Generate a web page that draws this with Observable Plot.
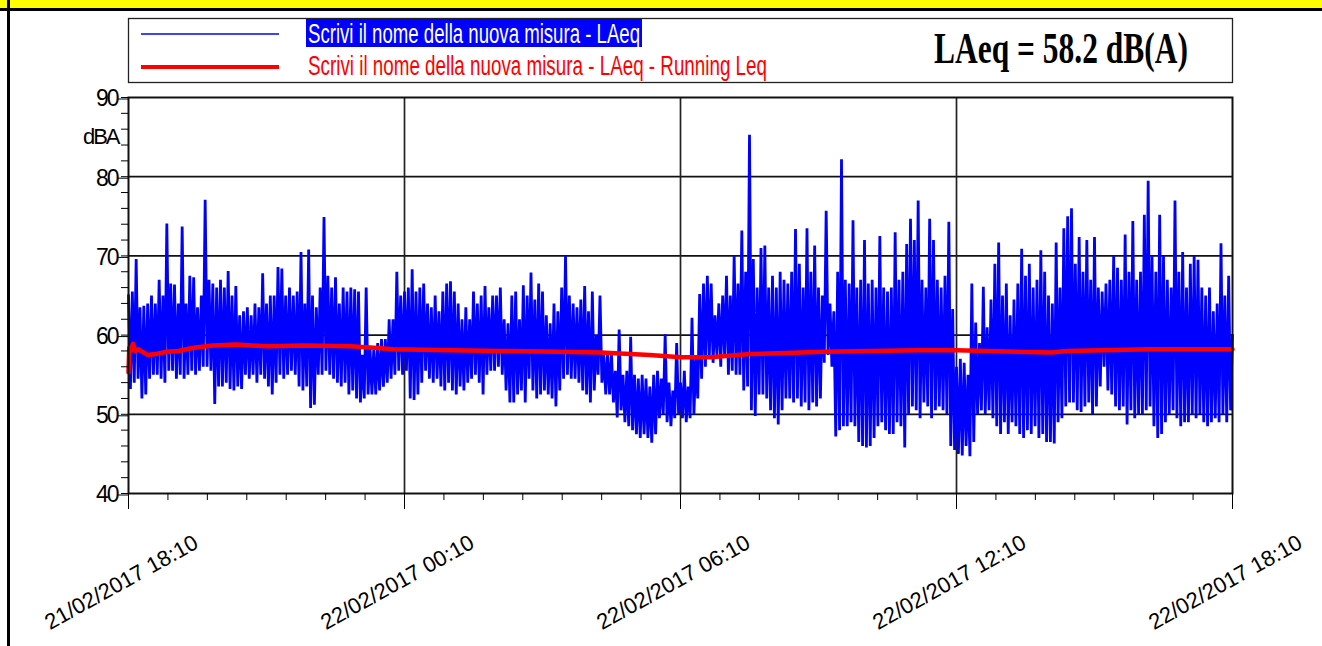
<!DOCTYPE html>
<html><head><meta charset="utf-8">
<script src="https://cdn.jsdelivr.net/npm/d3@7"></script>
<script src="https://cdn.jsdelivr.net/npm/@observablehq/plot@0.6"></script>
<style>
html,body{margin:0;padding:0;background:#fff;}
#page{position:relative;width:1322px;height:646px;overflow:hidden;background:#fff;}
#topbar{position:absolute;left:0;top:0;width:1322px;height:8px;background:#ffff00;border-bottom:3px solid #000;z-index:3;}
#leftline{position:absolute;left:7px;top:0;width:3px;height:646px;background:#000;z-index:3;}
#legend{position:absolute;left:0;top:0;z-index:2;}
#chart{position:absolute;left:0;top:85px;z-index:1;}
#chart svg g[aria-label="y-axis tick label"] text{letter-spacing:-2px;}
</style></head><body>
<div id="page">
<div id="chart"></div>
<svg id="legend" width="1322" height="90"></svg>
<div id="topbar"></div><div id="leftline"></div>
</div>
<script>
// ---------- data ----------
const seriesNames = ["Scrivi il nome della nuova misura - LAeq", "Scrivi il nome della nuova misura - LAeq - Running Leq"];
const summaryText = "LAeq = 58.2 dB(A)";
const yUnit = "dBA";
const xTickLabels = ["21/02/2017 18:10", "22/02/2017 00:10", "22/02/2017 06:10", "22/02/2017 12:10", "22/02/2017 18:10"];
const xTickMinutes = [0, 360, 720, 1080, 1440];
const yTicks = [40, 50, 60, 70, 80, 90];
const yGrid = [50, 60, 70, 80];

// LAeq: 5-minute maxima (hi) and minima (lo), one row per hour from 18:10
const laeqHi = [
 65, 65.5, 69.6, 63.5, 63.7, 64, 65, 64, 67, 65, 74.1, 66.5,
 66.4, 64, 73.7, 64, 67.5, 67.3, 63.5, 65, 77.1, 67, 66.5, 66,
 67, 66, 68.1, 65, 66.2, 62.5, 63, 63.5, 62.5, 64, 63.5, 67.8,
 64, 65, 65, 68.6, 68.4, 65, 66, 65, 65.5, 70.5, 64, 70.8,
 65, 63.5, 66, 74.9, 67.5, 66, 67.3, 64, 66, 65.5, 66, 65.8,
 65.5, 57.5, 66, 58.5, 58.5, 59, 59.5, 59.5, 62, 62, 68, 65,
 65.5, 66, 68.3, 65.5, 66, 66.5, 64, 63.5, 65, 63, 65.5, 66.5,
 66.8, 65.5, 64, 62, 63.5, 62, 65.5, 64, 65, 66.2, 63.5, 65,
 65, 66, 62, 61.5, 65, 65.5, 62, 66.3, 65, 67.9, 64.5, 66.5,
 65.5, 62.5, 61.5, 64, 63, 66, 70, 65, 64, 63.5, 64.5, 66.2,
 63, 65.5, 60, 65, 57.5, 58, 57.5, 55.5, 60.7, 55, 55.5, 59.8,
 55, 54.5, 55, 54.5, 53.5, 55, 55.5, 54.5, 60.1, 54, 53, 59,
 54, 55.5, 53.5, 62.2, 57, 65.2, 66.5, 67.5, 66.5, 62.5, 64, 65,
 67.5, 65, 70, 66.5, 73.2, 68, 85.3, 69.6, 66, 71, 71.3, 66,
 67.5, 66, 68, 67, 66.5, 68, 73.4, 69, 66, 73.5, 68, 71.3,
 66, 65, 75.7, 64, 63, 68, 82.2, 67, 66.5, 74.5, 66, 67,
 72, 66.5, 67, 66, 72.5, 66, 65.5, 66, 73, 67, 68, 71.5,
 74.7, 72, 77, 67, 66, 74.7, 72, 67, 66, 67.5, 74.3, 63.3,
 56, 57, 56.5, 55, 66.5, 61.6, 59, 66.1, 61, 64.5, 69, 71.7,
 65, 66.5, 62.5, 64.5, 66.5, 70.9, 67.5, 69, 66, 67, 70.7, 68,
 65, 64, 71.7, 66, 73.5, 75, 76, 69, 72.4, 68, 72, 67,
 72.4, 66, 65.5, 66.5, 67, 70, 68.5, 67, 72.7, 68, 74.4, 67,
 68, 75.2, 79.5, 70, 68, 75.2, 70, 67, 66, 77, 68, 70.5,
 66, 69, 70, 69.5, 66, 65, 66, 63, 64, 71.6, 65, 67.5
];
const laeqLo = [
 53.2, 54, 54.5, 52, 52.5, 54.5, 55, 55, 54.5, 54, 55.5, 55.5,
 54.5, 55, 54.5, 55, 55.5, 55, 55.5, 56, 56, 55.5, 51.3, 53.5,
 53.5, 54, 53.2, 53, 53.5, 53.2, 55, 54.5, 55, 54, 55, 54.5,
 53.5, 52.5, 54, 55, 54.5, 55, 55.5, 55, 53.5, 53, 53.5, 50.8,
 51.2, 55, 55, 55.5, 55, 54.5, 54, 53.5, 54, 52.5, 53, 52,
 51.5, 52, 52.5, 52.5, 52.5, 53, 53.5, 54, 54.5, 55, 55.5, 55,
 55.5, 52, 51.8, 52.5, 54, 55.5, 54.5, 54, 54.5, 53.5, 53, 54,
 53, 52.5, 53.5, 53, 54, 54.5, 55, 54, 52.5, 55, 55.5, 55.5,
 56, 55, 53, 51.5, 51.5, 52.5, 53, 51.5, 54.5, 53, 52, 52.5,
 53, 52.5, 52, 51, 53, 54.5, 55, 54.5, 54.5, 54, 53, 52.5,
 51.5, 53, 55, 54, 52.5, 52.5, 51.5, 49.6, 50.5, 49, 48.5, 48,
 47.5, 47, 47.5, 47, 46.4, 47.5, 49.5, 50, 49, 48.5, 49.5, 50,
 49.5, 49, 49.5, 50, 52, 54.5, 56, 57, 56.5, 57.5, 56, 57.5,
 55, 55.5, 55, 55, 53, 53.5, 50.5, 49.8, 52.5, 52.5, 52, 50.5,
 49.5, 48.7, 50.5, 52, 52, 51.5, 52, 51, 51.5, 50.5, 51.5, 51,
 52, 56.5, 57.5, 56, 47.2, 48, 48.5, 48.5, 49, 48.5, 46.5, 46,
 45.8, 46, 47, 48.5, 49, 48, 47.5, 47.5, 49, 48.5, 45.8, 50,
 51, 50.5, 49.5, 51.5, 51, 49.5, 50.5, 51, 50.5, 50, 46, 45.5,
 45, 44.8, 46, 44.7, 46.5, 50, 50.5, 50, 50.5, 49.5, 48.5, 47.5,
 49, 47.5, 49, 48.5, 47.5, 47, 48, 47.5, 48.5, 47, 47.5, 46.5,
 46.5, 46.3, 49, 49.5, 51, 51.5, 51.5, 50.5, 50.3, 51, 51.5, 50,
 51, 53.5, 56, 53, 52.5, 51, 50.5, 51, 48.7, 50.5, 49.5, 50,
 50, 50.5, 51, 48.5, 47, 47.5, 49, 50, 50.5, 49.5, 48.5, 49,
 49, 50, 49.5, 50, 49, 48.5, 49, 49.5, 49, 50, 49, 50.5
];
const laeqEnd = 60;

// Running Leq: minutes from 18:10 and values
const runMinutes = [0, 1, 3, 6, 9, 13, 18, 25, 35, 50, 65, 85, 110, 140, 180, 230, 290, 320, 345, 420, 485, 560, 616, 680, 720, 759, 811, 907, 1029, 1080, 1203, 1224, 1333, 1440];
const runValues  = [55.3, 58.4, 58.0, 58.9, 58.0, 58.2, 57.9, 57.5, 57.6, 57.9, 58.0, 58.4, 58.7, 58.8, 58.6, 58.7, 58.6, 58.4, 58.2, 58.1, 58.0, 57.9, 57.8, 57.5, 57.2, 57.2, 57.6, 57.9, 58.1, 58.1, 57.8, 58.0, 58.2, 58.2];

// ---------- build ----------
const MIN = 60000;
const start = Date.UTC(2017, 1, 21, 18, 10);
const tm = m => new Date(start + m * MIN);

const blue = [];
laeqHi.forEach((h, i) => {
  blue.push({t: tm(i * 5), v: h});
  blue.push({t: tm(i * 5 + 2.5), v: laeqLo[i]});
});
blue.push({t: tm(1440), v: laeqEnd});
const red = runMinutes.map((m, i) => ({t: tm(m), v: runValues[i]}));

const xMajor = xTickMinutes.map(tm);
const xMinor = d3.range(0, 29).map(k => tm(k * 360 / 7));
const yMinor = d3.range(40, 91, 2);

const chart = Plot.plot({
  width: 1322, height: 561,
  marginTop: 12, marginBottom: 153, marginLeft: 128, marginRight: 90,
  x: {type: "utc", domain: [tm(0), tm(1440)]},
  y: {domain: [40, 90]},
  style: {fontFamily: "'Liberation Sans', Arial, sans-serif", background: "transparent", color: "#000", overflow: "visible"},
  marks: [
    Plot.ruleY(yGrid, {stroke: "#111", strokeWidth: 1.7}),
    Plot.ruleX(xMajor.slice(1, -1), {stroke: "#222", strokeWidth: 1.7}),
    Plot.line(blue, {x: "t", y: "v", stroke: "#0000ff", strokeWidth: 2.8, strokeLinejoin: "bevel", curve: "linear"}),
    Plot.line(red, {x: "t", y: "v", stroke: "#ff0000", strokeWidth: 4.5}),
    Plot.frame({stroke: "#111", strokeWidth: 2}),
    Plot.axisY({ticks: yMinor, tickSize: 7, tickFormat: () => "", label: null, stroke: "#000"}),
    Plot.axisY({ticks: yTicks, tickSize: 11, tickPadding: 0, fontSize: 23, dy: 1.5, label: null, stroke: "#000"}),
    Plot.axisX({ticks: xMinor, tickSize: 7, tickFormat: () => "", label: null, stroke: "#000"}),
    Plot.axisX({ticks: xMajor, tickSize: 16, tickFormat: () => "", label: null, stroke: "#000"}),
    Plot.text([yUnit], {frameAnchor: "left", y: () => 85, text: d => d, dx: -10, textAnchor: "end", fontSize: 22, fill: "#000"}),
    Plot.text(xTickLabels, {x: (d, i) => xMajor[i], y: () => 40, text: d => d, rotate: -29, dx: -7, dy: 89, fontSize: 22, textAnchor: "middle", fill: "#000"})
  ]
});
chart.querySelectorAll('g[aria-label="text"] text').forEach(t => { if (t.textContent === yUnit) t.style.letterSpacing = "-2px"; });
document.getElementById("chart").appendChild(chart);

// ---------- legend ----------
const ns = "http://www.w3.org/2000/svg";
const lg = document.getElementById("legend");
function el(name, attrs, text) {
  const e = document.createElementNS(ns, name);
  for (const k in attrs) e.setAttribute(k, attrs[k]);
  if (text) e.textContent = text;
  lg.appendChild(e);
  return e;
}
el("rect", {x: 128.5, y: 18.5, width: 1104, height: 64, fill: "#fff", stroke: "#222", "stroke-width": 1.3});
el("line", {x1: 141, x2: 279, y1: 34, y2: 34, stroke: "#0000ff", "stroke-width": 1.5});
el("line", {x1: 141, x2: 279, y1: 67, y2: 67, stroke: "#ff0000", "stroke-width": 4});
el("rect", {x: 306, y: 19, width: 336, height: 28, fill: "#0000ff"});
el("text", {x: 308, y: 43, fill: "#fff", "font-family": "'Liberation Sans', Arial, sans-serif", "font-size": 27, textLength: 332, lengthAdjust: "spacingAndGlyphs"}, seriesNames[0]);
el("text", {x: 308, y: 75, fill: "#ff0000", "font-family": "'Liberation Sans', Arial, sans-serif", "font-size": 27, textLength: 459, lengthAdjust: "spacingAndGlyphs"}, seriesNames[1]);
el("text", {x: 934, y: 63, fill: "#000", "font-family": "'Liberation Serif', 'Times New Roman', serif", "font-weight": "bold", "font-size": 44, textLength: 254, lengthAdjust: "spacingAndGlyphs"}, summaryText);
</script>
</body></html>
